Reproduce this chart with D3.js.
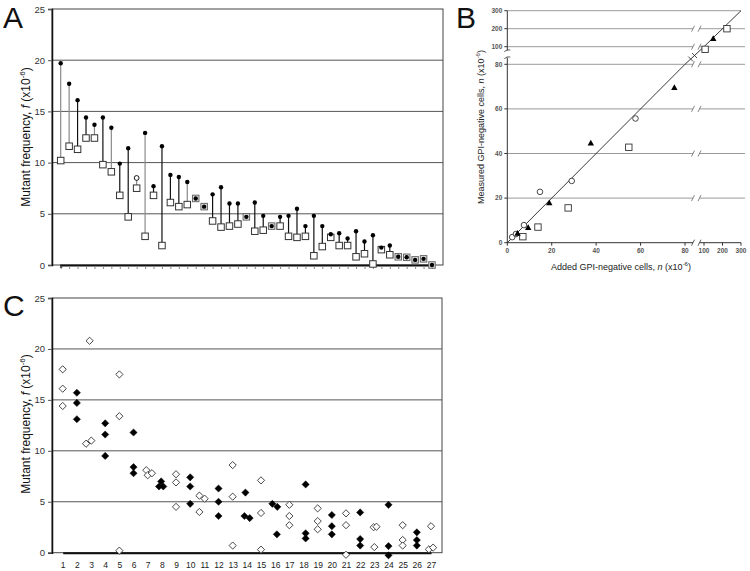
<!DOCTYPE html>
<html><head><meta charset="utf-8">
<script src="https://cdn.jsdelivr.net/npm/d3@7"></script>
<style>body{margin:0;background:#fff}svg{display:block}</style>
</head><body>
<svg id="chart" width="750" height="571"></svg>
<script>
// ---------- Panel A data ----------
const aIndex = d3.range(1, 46);
const aUpper = [19.7,17.7,16.1,14.4,13.7,14.4,13.4,9.9,11.4,8.5,12.9,7.7,11.6,8.8,8.6,8.1,6.5,5.7,6.9,7.6,6.0,6.0,4.7,6.1,4.8,3.8,4.7,4.8,5.5,3.8,4.8,3.8,3.0,3.1,2.6,3.3,2.3,2.9,1.7,1.9,0.8,0.75,0.5,0.6,0.0];
const aLower = [10.2,11.6,11.3,12.4,12.4,9.8,9.1,6.8,4.7,7.5,2.8,6.8,1.9,6.1,5.7,5.9,6.5,5.7,4.3,3.7,3.8,4.0,4.7,3.3,3.4,3.8,3.8,2.8,2.7,2.8,0.9,1.8,2.7,1.9,1.9,0.8,1.1,0.1,1.5,1.0,0.8,0.75,0.5,0.6,0.0];
const aGroup = ["g","g","k","k","g","k","g","k","k","g","g","k","k","k","k","g","k","k","k","k","k","k","k","k","k","k","k","k","k","k","k","k","k","k","k","k","k","k","k","k","k","k","k","k","k"];
const aOpenUpper = [10];
const freqTicks = [0, 5, 10, 15, 20, 25];

// ---------- Panel B data ----------
const bTicks = [0, 20, 40, 60, 80, 100, 200, 300];
const bGrid = [20, 40, 60, 80, 100, 200];
const bCircleX = [2.2, 3.9, 7.5, 14.7, 29, 57.7];
const bCircleY = [2.5, 3.9, 7.9, 22.8, 27.7, 55.7];
const bTriX = [4.6, 9.4, 18.9, 37.6, 75.2, 150];
const bTriY = [4.2, 6.7, 17.8, 44.6, 69.5, 145];
const bSqX = [7, 13.8, 27.4, 54.7, 106, 224];
const bSqY = [2.7, 7, 15.6, 42.8, 97, 200];

// ---------- Panel C data ----------
const cCategories = d3.range(1, 28);
const cOpenX = [1,1,1, 2.9,2.65,3.02, 5,5,5, 6.9,7.0,7.3, 9,9,9, 10.65,11.02,10.65, 13,13,13, 15,15,15, 17,17,17, 19,19,19, 21,21,21, 22.95,23.15,23, 25,25,25, 27,26.85,27.15];
const cOpenY = [18.0,16.1,14.4, 20.8,10.7,11.0, 17.5,13.4,0.2, 8.1,7.6,7.8, 7.7,6.9,4.5, 5.6,5.3,4.0, 8.6,5.5,0.7, 7.1,3.9,0.3, 4.7,3.6,2.7, 4.35,3.1,2.3, 3.86,2.7,-0.2, 2.5,2.55,0.55, 2.7,1.25,0.7, 2.6,0.33,0.5];
const cFillX = [2,2,2, 4,4,4, 6,6,6, 7.95,7.8,8.1, 10,10,10, 12,12,12, 13.9,13.83,14.2, 15.8,16.15,16.12, 18.15,18.15,18.15, 20,20,20, 22,22,22, 24,24,24, 26,26,26];
const cFillY = [15.7,14.7,13.1, 12.7,11.6,9.5, 11.8,8.4,7.8, 7.0,6.5,6.5, 7.4,6.5,4.8, 6.3,5.0,3.6, 5.9,3.6,3.4, 4.8,4.5,1.8, 6.7,1.9,1.4, 3.7,2.6,1.8, 3.95,1.34,0.7, 4.7,0.65,-0.26, 2.0,1.24,0.7];

const svg = d3.select("#chart");
const TICKFONT = "Liberation Sans, Arial, sans-serif";

function freqTitle(g, x, y) {
  const t = g.append("text")
    .attr("transform", `translate(${x},${y}) rotate(-90)`)
    .attr("text-anchor", "middle")
    .attr("font-family", "Liberation Sans, Arial, sans-serif")
    .attr("font-size", 12).attr("fill", "#111");
  t.append("tspan").text("Mutant frequency, ");
  t.append("tspan").attr("font-style", "italic").text("f");
  t.append("tspan").text(" (x10");
  t.append("tspan").attr("font-size", 8).attr("dy", -5).text("-6");
  t.append("tspan").attr("dy", 5).text(")");
}

function panelLetter(x, y, s) {
  svg.append("text").attr("x", x).attr("y", y)
    .attr("font-family", "Liberation Sans, Arial, sans-serif")
    .attr("font-size", 30).attr("fill", "#111").text(s);
}

// ======== Panel A ========
const A = {l: 52, r: 443, t: 9, b: 265};
const xA = d3.scalePoint().domain(aIndex).range([60.7, 432]);
const yA = d3.scaleLinear().domain([0, 25]).range([A.b, A.t]);
const gA = svg.append("g");

gA.append("g").selectAll("line").data(freqTicks.slice(1, -1)).join("line")
  .attr("x1", A.l).attr("x2", A.r).attr("y1", d => yA(d)).attr("y2", d => yA(d))
  .attr("stroke", "#555").attr("stroke-width", 1);
gA.append("rect").attr("x", A.l).attr("y", A.t).attr("width", A.r - A.l).attr("height", A.b - A.t)
  .attr("fill", "none").attr("stroke", "#444").attr("stroke-width", 1);

const axA = gA.append("g").attr("transform", `translate(${A.l},0)`)
  .call(d3.axisLeft(yA).tickValues(freqTicks).tickSize(4).tickPadding(3));
axA.select(".domain").attr("stroke", "#111").attr("stroke-width", 1.5);
axA.selectAll("text").attr("font-family", TICKFONT).attr("font-size", 9.5).attr("fill", "#333");
axA.selectAll(".tick line").attr("stroke", "#555");

const axAb = gA.append("g").attr("transform", `translate(0,${A.b})`)
  .call(d3.axisBottom(xA).tickSize(3).tickFormat(""));
axAb.select(".domain").attr("stroke", "#111").attr("stroke-width", 2);
axAb.selectAll(".tick line").attr("stroke", "#888").attr("transform", "translate(0,1)");

const aData = aIndex.map((k, i) => ({k, up: aUpper[i], lo: aLower[i], grp: aGroup[i]}));
gA.append("g").selectAll("line").data(aData.filter(d => d.up !== d.lo)).join("line")
  .attr("x1", d => xA(d.k)).attr("x2", d => xA(d.k))
  .attr("y1", d => yA(d.up)).attr("y2", d => yA(d.lo))
  .attr("stroke", d => d.grp === "g" ? "#8a8a8a" : "#111").attr("stroke-width", 1.2);
const sq = 6.5;
gA.append("g").selectAll("rect").data(aData).join("rect")
  .attr("x", d => xA(d.k) - sq / 2).attr("y", d => yA(d.lo) - sq / 2)
  .attr("width", sq).attr("height", sq)
  .attr("fill", d => d.up === d.lo ? "#e4e4e4" : "#fff")
  .attr("stroke", d => d.up === d.lo ? "#666" : "#333").attr("stroke-width", 1);
gA.append("g").selectAll("circle").data(aData).join("circle")
  .attr("cx", d => xA(d.k)).attr("cy", d => yA(d.up))
  .attr("r", d => aOpenUpper.includes(d.k) ? 2.4 : 2.2)
  .attr("fill", d => aOpenUpper.includes(d.k) ? "#fff" : "#000")
  .attr("stroke", "#000").attr("stroke-width", d => aOpenUpper.includes(d.k) ? 0.9 : 0);

freqTitle(gA, 30, 137);
panelLetter(3, 28, "A");

// ======== Panel C ========
const C = {l: 52, r: 442, t: 298, b: 552.7};
const xC = d3.scaleLinear().domain([1, 27]).range([62.7, 431]);
const yC = d3.scaleLinear().domain([0, 25]).range([C.b, C.t]);
const gC = svg.append("g");
gC.append("g").selectAll("line").data(freqTicks.slice(1, -1)).join("line")
  .attr("x1", C.l).attr("x2", C.r).attr("y1", d => yC(d)).attr("y2", d => yC(d))
  .attr("stroke", "#555").attr("stroke-width", 1);
gC.append("rect").attr("x", C.l).attr("y", C.t).attr("width", C.r - C.l).attr("height", C.b - C.t)
  .attr("fill", "none").attr("stroke", "#444").attr("stroke-width", 1);
const axC = gC.append("g").attr("transform", `translate(${C.l},0)`)
  .call(d3.axisLeft(yC).tickValues(freqTicks).tickSize(4).tickPadding(3));
axC.select(".domain").attr("stroke", "#111").attr("stroke-width", 1.5);
axC.selectAll("text").attr("font-family", TICKFONT).attr("font-size", 9.5).attr("fill", "#333");
axC.selectAll(".tick line").attr("stroke", "#555");
const axCb = gC.append("g").attr("transform", `translate(0,${C.b})`)
  .call(d3.axisBottom(xC).tickValues(cCategories).tickFormat(d3.format("d")).tickSize(0).tickPadding(9));
axCb.select(".domain").attr("stroke", "#111").attr("stroke-width", 2);
axCb.selectAll("text").attr("font-family", TICKFONT).attr("font-size", 8.5).attr("fill", "#222");

const diamond = (cx, cy, h) => `M${cx},${cy - h}L${cx + h},${cy}L${cx},${cy + h}L${cx - h},${cy}Z`;
gC.append("g").selectAll("path").data(cOpenX.map((x, i) => [x, cOpenY[i]])).join("path")
  .attr("d", d => diamond(xC(d[0]), yC(d[1]), 3.6))
  .attr("fill", "#fff").attr("stroke", "#333").attr("stroke-width", 0.9);
gC.append("g").selectAll("path").data(cFillX.map((x, i) => [x, cFillY[i]])).join("path")
  .attr("d", d => diamond(xC(d[0]), yC(d[1]), 3.6))
  .attr("fill", "#000").attr("stroke", "#000").attr("stroke-width", 0.5);

freqTitle(gC, 30, 424);
panelLetter(3, 316, "C");

// ======== Panel B ========
const xB = d3.scaleLinear().domain([0, 80, 100, 300]).range([507.3, 685, 704, 741]);
const yB = d3.scaleLinear().domain([0, 80, 100, 300]).range([242.7, 64.3, 46.7, 10.7]);
const gB = svg.append("g");
const brkL = 693, brkR = 699.5, Bright = 745;
const grey = "#9a9a9a";

// gridlines with break
bGrid.forEach(v => {
  const y = yB(v);
  gB.append("line").attr("x1", xB(0)).attr("x2", brkL).attr("y1", y).attr("y2", y).attr("stroke", grey);
  gB.append("line").attr("x1", brkR).attr("x2", Bright).attr("y1", y).attr("y2", y).attr("stroke", grey);
  [brkL, brkR].forEach(bx => gB.append("line")
    .attr("x1", bx - 1.5).attr("x2", bx + 1.5).attr("y1", y + 3).attr("y2", y - 3)
    .attr("stroke", "#666").attr("stroke-width", 0.8));
});
gB.append("line").attr("x1", xB(0)).attr("x2", 741).attr("y1", yB(300)).attr("y2", yB(300)).attr("stroke", grey);

// y axis with break
const yBreakLo = 57.5, yBreakHi = 50.5;
gB.append("line").attr("x1", xB(0)).attr("x2", xB(0)).attr("y1", yB(0)).attr("y2", yBreakLo).attr("stroke", "#333");
gB.append("line").attr("x1", xB(0)).attr("x2", xB(0)).attr("y1", yBreakHi).attr("y2", yB(300)).attr("stroke", "#333");
[yBreakLo, yBreakHi].forEach(by => gB.append("path")
  .attr("d", `M${xB(0) - 3},${by + 1.2}Q${xB(0)},${by - 1.5} ${xB(0) + 3},${by - 0.5}`)
  .attr("fill", "none").attr("stroke", "#333").attr("stroke-width", 0.8));
gB.append("g").selectAll("line").data(bTicks).join("line")
  .attr("x1", xB(0) - 3).attr("x2", xB(0)).attr("y1", d => yB(d)).attr("y2", d => yB(d)).attr("stroke", "#333");
gB.append("g").selectAll("text").data(bTicks).join("text")
  .attr("x", xB(0) - 5).attr("y", d => yB(d)).attr("dy", "0.35em").attr("text-anchor", "end")
  .attr("font-family", TICKFONT).attr("font-size", 6.5).attr("font-weight", "bold").attr("fill", "#555")
  .text(d => d);

// x axis with break
gB.append("line").attr("x1", xB(0)).attr("x2", brkL).attr("y1", yB(0)).attr("y2", yB(0)).attr("stroke", "#333");
gB.append("line").attr("x1", brkR).attr("x2", xB(300)).attr("y1", yB(0)).attr("y2", yB(0)).attr("stroke", "#333");
[brkL, brkR].forEach(bx => gB.append("line")
  .attr("x1", bx - 1.5).attr("x2", bx + 1.5).attr("y1", yB(0) + 3).attr("y2", yB(0) - 3)
  .attr("stroke", "#333").attr("stroke-width", 0.8));
gB.append("g").selectAll("line").data(bTicks).join("line")
  .attr("x1", d => xB(d)).attr("x2", d => xB(d)).attr("y1", yB(0)).attr("y2", yB(0) + 3).attr("stroke", "#333");
gB.append("g").selectAll("text").data(bTicks).join("text")
  .attr("x", d => xB(d)).attr("y", yB(0) + 10.5).attr("text-anchor", "middle")
  .attr("font-family", TICKFONT).attr("font-size", 6.5).attr("font-weight", "bold").attr("fill", "#555")
  .text(d => d);

// identity line
const diag = [0, 80, 100, 300];
gB.append("path").attr("d", d3.line().x(d => xB(d)).y(d => yB(d))(diag))
  .attr("fill", "none").attr("stroke", "#222").attr("stroke-width", 0.9);
[86, 90].forEach(v => {
  const cx = xB(v), cy = yB(v);
  gB.append("line").attr("x1", cx - 2.5).attr("y1", cy - 2.5).attr("x2", cx + 2.5).attr("y2", cy + 2.5)
    .attr("stroke", "#222").attr("stroke-width", 0.8);
});

// markers
gB.append("g").selectAll("rect").data(bSqX.map((x, i) => [x, bSqY[i]])).join("rect")
  .attr("x", d => xB(d[0]) - 3.2).attr("y", d => yB(d[1]) - 3.2).attr("width", 6.4).attr("height", 6.4)
  .attr("fill", "#fff").attr("stroke", "#333").attr("stroke-width", 0.9);
gB.append("g").selectAll("circle").data(bCircleX.map((x, i) => [x, bCircleY[i]])).join("circle")
  .attr("cx", d => xB(d[0])).attr("cy", d => yB(d[1])).attr("r", 2.8)
  .attr("fill", "#fff").attr("stroke", "#333").attr("stroke-width", 0.9);
gB.append("g").selectAll("path").data(bTriX.map((x, i) => [x, bTriY[i]])).join("path")
  .attr("d", d => { const cx = xB(d[0]), cy = yB(d[1]); return `M${cx},${cy - 3.4}L${cx + 3.2},${cy + 2.3}L${cx - 3.2},${cy + 2.3}Z`; })
  .attr("fill", "#000");

// titles
const bx = gB.append("text").attr("x", 621).attr("y", 270).attr("text-anchor", "middle")
  .attr("font-family", "Liberation Sans, Arial, sans-serif").attr("font-size", 9).attr("fill", "#222");
bx.append("tspan").text("Added GPI-negative cells, ");
bx.append("tspan").attr("font-style", "italic").text("n");
bx.append("tspan").text(" (x10");
bx.append("tspan").attr("font-size", 6).attr("dy", -4).text("-6");
bx.append("tspan").attr("dy", 4).text(")");

const by = gB.append("text").attr("transform", "translate(484,127) rotate(-90)").attr("text-anchor", "middle")
  .attr("font-family", "Liberation Sans, Arial, sans-serif").attr("font-size", 9).attr("fill", "#222");
by.append("tspan").text("Measured GPI-negative cells, ");
by.append("tspan").attr("font-style", "italic").text("n");
by.append("tspan").text(" (x10");
by.append("tspan").attr("font-size", 6).attr("dy", -4).text("-6");
by.append("tspan").attr("dy", 4).text(")");

panelLetter(456, 28, "B");
</script>
</body></html>
